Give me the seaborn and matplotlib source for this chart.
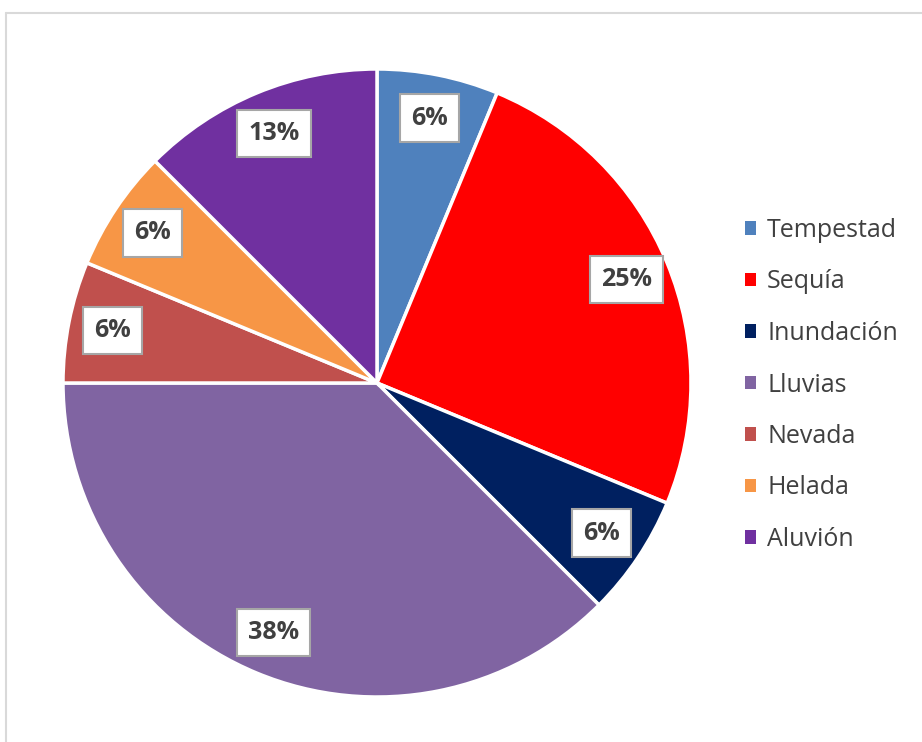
import matplotlib
matplotlib.use("Agg")
import matplotlib.pyplot as plt
import seaborn as sns
from matplotlib.lines import Line2D
from matplotlib.patches import Patch

categorias = ["Tempestad", "Sequía", "Inundación", "Lluvias", "Nevada", "Helada", "Aluvión"]
eventos = [1, 4, 1, 6, 1, 1, 2]
colores = ["#4F81BD", "#FF0000", "#002060", "#8064A2", "#C0504D", "#F79646", "#7030A0"]

sns.set_theme(style="white")
plt.rcParams["font.family"] = ["Open Sans", "DejaVu Sans"]

fig = plt.figure(figsize=(9.22, 7.42), dpi=100)
ax = fig.add_axes([63 / 922, 45 / 742, 628 / 922, 628 / 742])

wedges, textos, pcts = ax.pie(
    eventos,
    colors=colores,
    startangle=90,
    counterclock=False,
    autopct=lambda p: f"{int(p + 0.5)}%",
    pctdistance=0.86,
    wedgeprops=dict(edgecolor="white", linewidth=2.5),
)
for t in pcts:
    t.set_fontsize(18)
    t.set_fontweight("bold")
    t.set_color("#404040")
    t.set_bbox(dict(boxstyle="square,pad=0.45", facecolor="white",
                    edgecolor="#a6a6a6", linewidth=1.5))
ax.set_xlim(-1, 1)
ax.set_ylim(-1, 1)
ax.set_aspect("equal")

handles = [Patch(facecolor=c, edgecolor="none") for c in colores]
fig.legend(handles, categorias, loc="center left", bbox_to_anchor=(732 / 922, 1 - 385 / 742),
           frameon=False, fontsize=18, labelcolor="#404040",
           handlelength=0.45, handleheight=0.45, handletextpad=0.45,
           labelspacing=1.06, borderpad=0)

# marco del área del gráfico
fig.add_artist(Line2D([5.5 / 922, 5.5 / 922], [0, 1 - 12.5 / 742],
                      transform=fig.transFigure, color="#d9d9d9", linewidth=1.5))
fig.add_artist(Line2D([5.5 / 922, 1], [1 - 12.5 / 742, 1 - 12.5 / 742],
                      transform=fig.transFigure, color="#d9d9d9", linewidth=1.5))

fig.savefig("out.png", dpi=100, facecolor="white")
